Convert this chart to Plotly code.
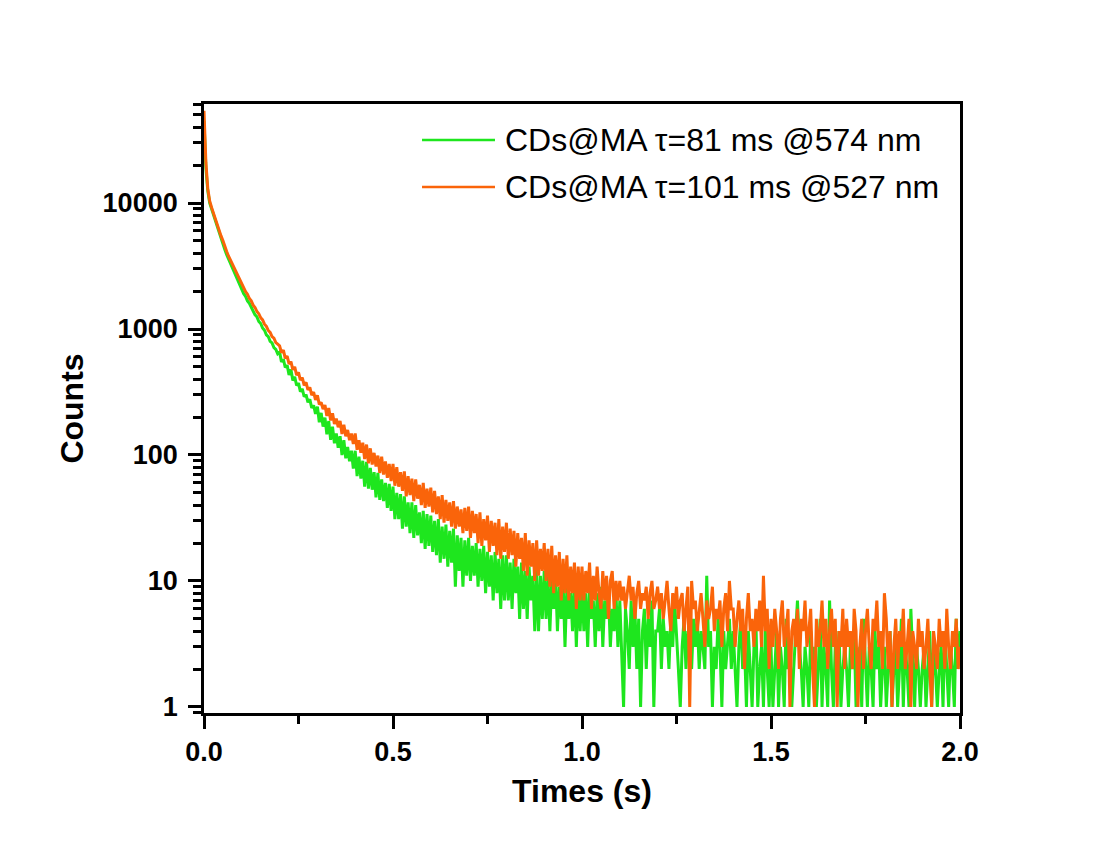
import plotly.graph_objects as go

# ---------------- data ----------------
time_start = 0.0      # s
time_step = 0.005     # s, channel width

series_names = ["CDs@MA \u03c4=81 ms @574 nm", "CDs@MA \u03c4=101 ms @527 nm"]

counts_574 = [
    45000, 19000, 12500, 10000, 9000, 8050, 7250, 6550, 5850, 5250, 4780, 4280, 3880, 3580, 3280, 3030, 2790, 2600, 2400, 2230,
    2070, 1905, 1815, 1672, 1598, 1475, 1408, 1296, 1249, 1148, 1106, 1019, 977, 899, 871, 798, 775, 712, 690, 636,
    655, 548, 575, 495, 516, 432, 478, 390, 418, 356, 372, 318, 335, 290, 301, 262, 276, 236, 248, 212,
    242, 182, 216, 168, 198, 146, 186, 132, 168, 124, 148, 114, 141, 100, 131, 94, 116, 89, 108, 78,
    108, 68, 97, 65, 90, 56, 88, 54, 79, 53, 73, 46, 72, 44, 64, 43, 60, 38, 59, 36,
    56, 31, 50, 31, 49, 26, 47, 27, 42, 24, 42, 22, 40, 23, 35, 20, 36, 18, 34, 19,
    33, 17, 30, 16, 31, 14, 27, 15, 28, 13, 25, 14, 26, 9, 23, 12, 22, 9, 21, 11,
    22, 10, 19, 11, 20, 9, 18, 10, 19, 8, 17, 9, 16, 7, 17, 8, 15, 6, 16, 7,
    16, 7, 14, 6, 15, 8, 13, 5, 14, 6, 12, 5, 13, 7, 11, 4, 12, 4, 11, 5,
    12, 5, 11, 4, 10, 6, 11, 4, 9, 5, 10, 3, 9, 5, 8, 4, 10, 3, 9, 4,
    9, 4, 8, 3, 9, 5, 7, 3, 8, 4, 9, 3, 7, 5, 8, 3, 6, 4, 8, 3,
    7, 3, 1, 6, 4, 2, 7, 3, 6, 2, 5, 1, 4, 6, 2, 5, 3, 7, 1, 4,
    4, 6, 2, 5, 3, 4, 2, 5, 3, 7, 4, 2, 1, 3, 5, 2, 4, 3, 2, 5,
    3, 5, 2, 4, 3, 2, 11, 3, 4, 1, 3, 2, 5, 3, 1, 4, 2, 3, 5, 2,
    4, 2, 1, 3, 5, 2, 3, 1, 4, 2, 1, 3, 5, 1, 2, 3, 1, 4, 2, 1,
    3, 1, 2, 4, 1, 3, 2, 1, 5, 2, 3, 1, 2, 4, 7, 3, 2, 1, 3, 2,
    1, 4, 2, 3, 1, 2, 5, 1, 3, 2, 1, 7, 2, 1, 3, 2, 4, 1, 2, 3,
    2, 1, 3, 2, 4, 1, 2, 3, 1, 5, 2, 1, 3, 2, 1, 4, 2, 3, 1, 2,
    3, 1, 2, 4, 1, 2, 3, 1, 2, 5, 1, 3, 2, 1, 6, 2, 1, 3, 2, 1,
    2, 3, 1, 2, 4, 1, 3, 2, 1, 2, 3, 1, 4, 2, 1, 3, 2, 1, 5, 2,
    4,
]

counts_527 = [
    54000, 21000, 13000, 10400, 9230, 8270, 7540, 6780, 6120, 5480, 5030, 4490, 4120, 3780, 3520, 3230, 3010, 2790, 2610, 2410,
    2240, 2135, 1975, 1890, 1745, 1672, 1548, 1483, 1376, 1322, 1228, 1181, 1092, 1051, 974, 941, 871, 846, 781, 758,
    735, 650, 680, 585, 610, 528, 551, 476, 500, 430, 452, 392, 412, 357, 378, 328, 345, 298, 316, 274,
    298, 252, 262, 231, 249, 204, 236, 188, 214, 176, 195, 166, 186, 147, 174, 141, 158, 131, 148, 122,
    148, 110, 131, 104, 125, 93, 121, 86, 113, 84, 104, 81, 99, 72, 97, 70, 89, 66, 85, 62,
    85, 57, 80, 56, 73, 52, 74, 47, 68, 48, 65, 43, 64, 45, 58, 40, 60, 38, 54, 39,
    55, 35, 52, 34, 47, 31, 48, 29, 44, 30, 42, 27, 43, 26, 39, 27, 37, 24, 38, 25,
    39, 22, 36, 24, 34, 20, 35, 19, 31, 21, 33, 17, 30, 19, 29, 16, 31, 15, 27, 17,
    29, 15, 26, 16, 25, 13, 24, 15, 22, 12, 24, 11, 21, 13, 20, 10, 21, 11, 18, 12,
    20, 10, 18, 9, 19, 8, 16, 9, 17, 7, 15, 8, 16, 7, 13, 8, 14, 6, 13, 7,
    13, 7, 12, 8, 14, 6, 11, 7, 13, 8, 6, 12, 7, 11, 5, 10, 12, 6, 10, 7,
    10, 7, 9, 6, 8, 11, 7, 9, 5, 8, 10, 6, 8, 7, 9, 5, 8, 10, 6, 7,
    9, 6, 8, 5, 7, 10, 6, 4, 8, 6, 9, 5, 7, 8, 4, 6, 9, 1, 10, 6,
    7, 4, 6, 8, 5, 3, 7, 5, 6, 9, 4, 6, 5, 7, 3, 6, 8, 4, 10, 6,
    6, 3, 5, 7, 4, 6, 2, 5, 8, 4, 5, 3, 6, 4, 7, 3, 11, 4, 6, 2,
    5, 3, 6, 4, 2, 5, 7, 3, 4, 6, 1, 4, 5, 3, 6, 2, 5, 4, 7, 3,
    4, 6, 2, 1, 5, 3, 4, 7, 3, 5, 2, 4, 6, 3, 5, 1, 4, 3, 6, 2,
    5, 3, 4, 2, 6, 4, 1, 3, 5, 2, 4, 6, 3, 2, 5, 4, 7, 3, 4, 2,
    8, 5, 2, 4, 1, 3, 5, 2, 4, 3, 6, 2, 3, 5, 1, 4, 3, 2, 5, 3,
    4, 2, 3, 5, 2, 1, 4, 3, 2, 5, 3, 4, 2, 6, 3, 2, 4, 3, 5, 2,
    3,
]

x_tick_values = [0.0, 0.5, 1.0, 1.5, 2.0]
x_tick_labels = ["0.0", "0.5", "1.0", "1.5", "2.0"]
y_tick_values = [1, 10, 100, 1000, 10000]
y_tick_labels = ["1", "10", "100", "1000", "10000"]

# ---------------- styling ----------------
GREEN = "#1ee61e"
ORANGE = "#fa640a"
FONT = "Arial, Liberation Sans, sans-serif"

fig = go.Figure()
fig.add_trace(go.Scatter(y=counts_574, x0=time_start, dx=time_step, mode="lines",
                         line=dict(color=GREEN, width=3), name=series_names[0],
                         showlegend=False))
fig.add_trace(go.Scatter(y=counts_527, x0=time_start, dx=time_step, mode="lines",
                         line=dict(color=ORANGE, width=3), name=series_names[1],
                         showlegend=False))

axis_common = dict(showgrid=False, zeroline=False, showline=True, linecolor="black",
                   linewidth=2.8, mirror=True, ticks="outside", tickwidth=2.5,
                   tickcolor="black", ticklen=13,
                   tickfont=dict(family=FONT, size=27, color="black", weight="bold"))

fig.update_xaxes(**axis_common, range=[0, 2], tickmode="array",
                 tickvals=x_tick_values, ticktext=x_tick_labels,
                 minor=dict(ticks="outside", dtick=0.25, ticklen=8, tickwidth=2.5,
                            tickcolor="black"),
                 title=dict(text="Times (s)", standoff=14,
                            font=dict(family=FONT, size=32, color="black", weight="bold")))
fig.update_yaxes(**axis_common, type="log", range=[-0.048, 4.786], tickmode="array",
                 tickvals=y_tick_values, ticktext=y_tick_labels, ticklabelstandoff=5,
                 minor=dict(ticks="outside", dtick="D1", ticklen=8, tickwidth=2.5,
                            tickcolor="black"),
                 title=dict(text="Counts", standoff=10,
                            font=dict(family=FONT, size=32, color="black", weight="bold")))

# legend drawn as line keys + text in the upper right of the plot area
legend_rows_y = [0.9409, 0.8637]
legend_colors = [GREEN, ORANGE]
for name, color, yy in zip(series_names, legend_colors, legend_rows_y):
    fig.add_shape(type="line", xref="paper", yref="paper", x0=0.2884, x1=0.3849,
                  y0=yy, y1=yy, line=dict(color=color, width=2.5))
    fig.add_annotation(xref="paper", yref="paper", x=0.3955, y=yy, text=name,
                       showarrow=False, xanchor="left", yanchor="middle",
                       font=dict(family=FONT, size=32, color="black"))

fig.update_layout(width=1100, height=847,
                  margin=dict(l=204, r=140, t=104, b=134),
                  paper_bgcolor="white", plot_bgcolor="white",
                  showlegend=False)

fig.write_html("out.html")
